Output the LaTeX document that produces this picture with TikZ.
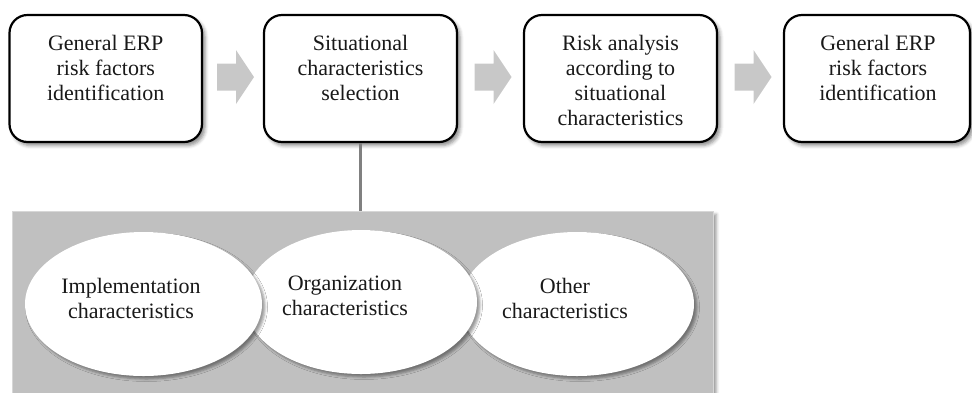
\documentclass[tikz,border=0pt]{standalone}
\usepackage{fontspec}
\setmainfont{Liberation Serif}
\usetikzlibrary{shapes.geometric,shadows.blur,calc}
\definecolor{panelgray}{RGB}{192,192,192}
\definecolor{paneledge}{RGB}{215,215,215}
\definecolor{arrowgray}{RGB}{200,200,200}
\definecolor{linegray}{RGB}{128,128,128}
\begin{document}
\begin{tikzpicture}[x=1pt,y=-1pt,
  stepbox/.style={draw=black, line width=2.2pt, fill=white, rounded corners=18pt, inner sep=0pt,
    blur shadow={shadow xshift=3pt, shadow yshift=-3.5pt, shadow blur radius=3.5pt, shadow opacity=45}},
  lbl/.style={font=\fontsize{22}{25}\selectfont, align=center, anchor=north, inner sep=0pt, text=black!90},
  ellnode/.style={ellipse, fill=white, inner sep=0pt,
    blur shadow={shadow xshift=3pt, shadow yshift=-3pt, shadow blur radius=2.5pt, shadow opacity=40}},
  panel/.style={fill=panelgray, draw=paneledge, line width=0.8pt, inner sep=0pt, anchor=north west,
    blur shadow={shadow xshift=3pt, shadow yshift=-3pt, shadow blur radius=3pt, shadow opacity=40}},
  blockarrow/.style={fill=arrowgray, draw=none},
  vline/.style={draw=linegray, line width=3pt}
]
\useasboundingbox (0,0) rectangle (972,392);

% top row boxes
\node[stepbox, minimum width=192.5pt, minimum height=127pt] (b1) at (105.75,78.5) {};
\node[stepbox, minimum width=193pt, minimum height=127pt] (b2) at (360.5,78.5) {};
\node[stepbox, minimum width=193pt, minimum height=127pt] (b3) at (620.5,78.5) {};
\node[stepbox, minimum width=186pt, minimum height=127pt] (b4) at (877,78.5) {};

\node[lbl] (t1) at (105.75,35.0) {General ERP\\risk factors\\identification};
\node[lbl] (t2) at (360.5,35.0) {Situational\\characteristics\\selection};
\node[lbl] (t3) at (620.5,34.7) {Risk analysis\\according to\\situational\\characteristics};
\node[lbl] (t4) at (878,35.0) {General ERP\\risk factors\\identification};

% block arrows between boxes
\foreach \a/\b in {b1/b2,b2/b3,b3/b4}{
  \coordinate (m\a) at ($(\a.east)!0.5!(\b.west)+(0,-1.5)$);
  \fill[blockarrow] ($(m\a)+(-16,-13.5)$) -- ($(m\a)+(3,-13.5)$) -- ($(m\a)+(3,-27)$)
     -- ($(m\a)+(21,0)$) -- ($(m\a)+(3,27)$) -- ($(m\a)+(3,13.5)$) -- ($(m\a)+(-16,13.5)$) -- cycle;
}

% panel with characteristics
\node[panel, minimum width=701pt, minimum height=186pt] (grp) at (12,211) {};
\draw[vline] (b2.south) -- (b2.south |- grp.north);

\node[ellnode, minimum width=234pt, minimum height=144pt] (e3) at (577,304) {};
\node[ellnode, minimum width=232pt, minimum height=144pt] (e2) at (361,302) {};
\node[ellnode, minimum width=237pt, minimum height=144pt] (e1) at (143.5,304) {};

\node[lbl] (l1) at (131,278.0) {Implementation\\characteristics};
\node[lbl] (l2) at (345,276.0) {Organization\\characteristics};
\node[lbl] (l3) at (565,278.0) {Other\\characteristics};
\end{tikzpicture}
\end{document}
